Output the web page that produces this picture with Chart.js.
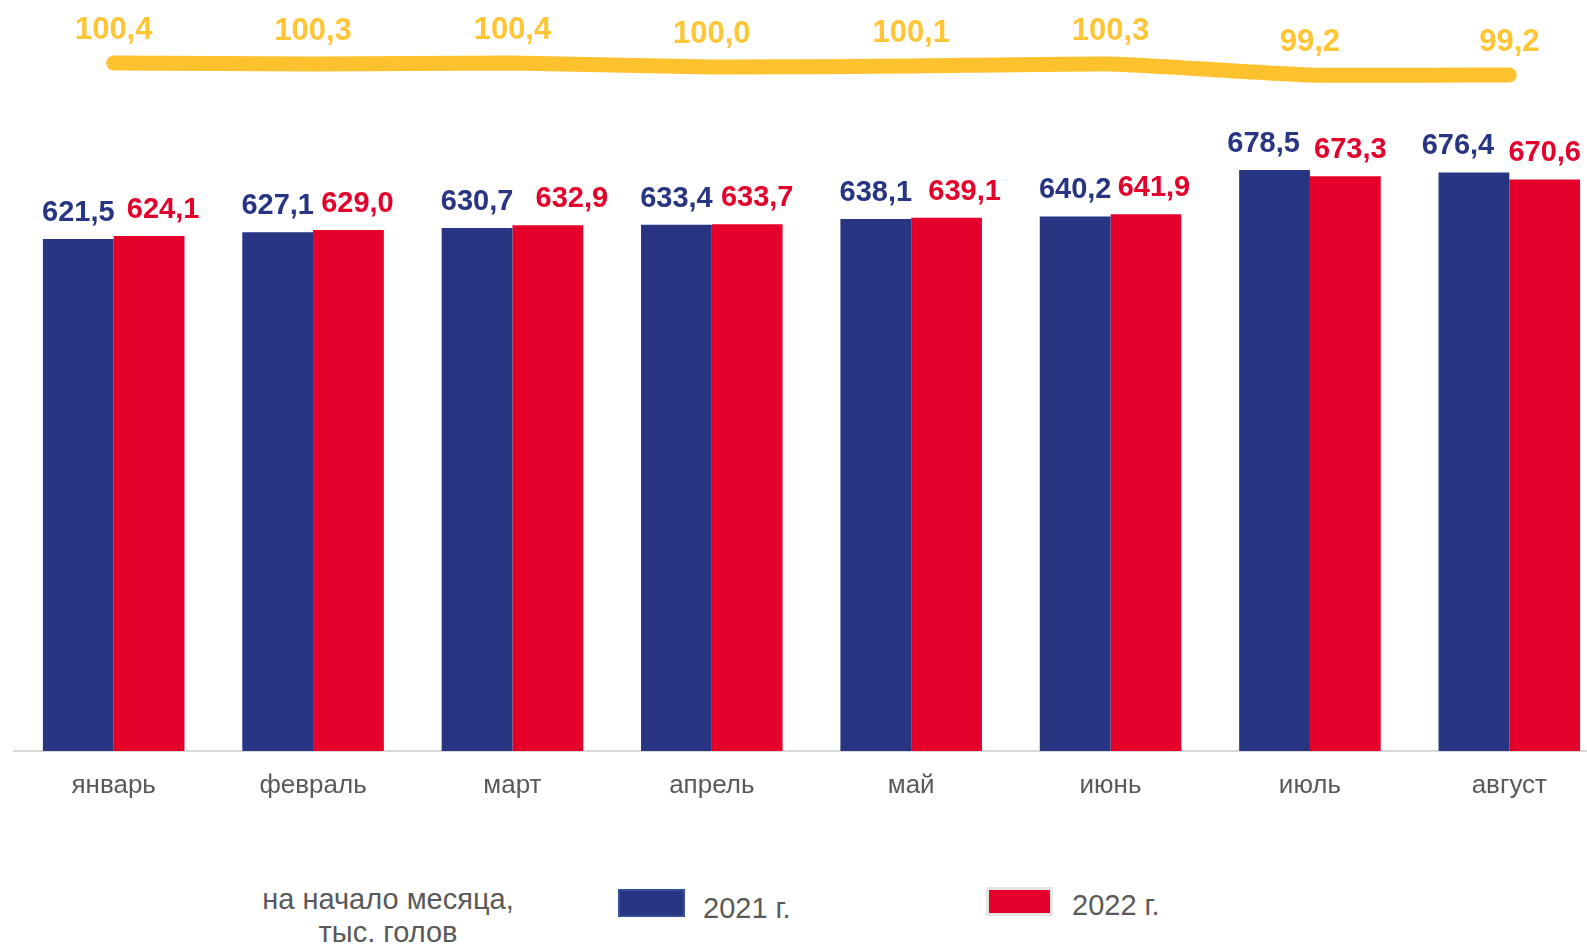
<!DOCTYPE html>
<html lang="ru">
<head>
<meta charset="utf-8">
<title>Поголовье</title>
<script src="https://cdn.jsdelivr.net/npm/chart.js@4.4.1/dist/chart.umd.min.js"></script>
<style>
  html, body { margin: 0; padding: 0; background: #fff; overflow: hidden; width: 1587px; height: 946px; }
  body { position: relative; font-family: "Liberation Sans", Arial, sans-serif; color: #595959; }
  #chart { position: absolute; left: 0; top: 0; }
  .note { position: absolute; left: 188px; top: 883px; width: 400px; text-align: center; font-size: 29px; line-height: 33px; }
  .sw { position: absolute; box-sizing: border-box; }
  .lbl { position: absolute; font-size: 29px; line-height: 30px; }
</style>
</head>
<body>
<canvas id="chart" width="1612" height="811"></canvas>
<div class="note">на начало месяца,<br>тыс. голов</div>
<div class="sw" style="left:618px;top:889px;width:67px;height:28px;background:#283583;border:2px solid #34509a;"></div>
<div class="lbl" style="left:703px;top:893px;">2021 г.</div>
<div class="sw" style="left:986px;top:887px;width:67px;height:29px;background:#e4002b;border:3px solid #e6e6e6;"></div>
<div class="lbl" style="left:1072px;top:890px;">2022 г.</div>

<script>
// data
const months = ['январь', 'февраль', 'март', 'апрель', 'май', 'июнь', 'июль', 'август'];
const herd2021 = [621.5, 627.1, 630.7, 633.4, 638.1, 640.2, 678.5, 676.4];
const herd2022 = [624.1, 629.0, 632.9, 633.7, 639.1, 641.9, 673.3, 670.6];
const ratio = [100.4, 100.3, 100.4, 100.0, 100.1, 100.3, 99.2, 99.2];

const BLUE = '#283583';
const RED = '#e4002b';
const YELLOW = '#ffc22f';
const FONT = '"Liberation Sans", Arial, sans-serif';

// labels in the original are nudged sideways by hand, unevenly
const blueShift = [0, 0, 0, 0, 0, 0, -11, -16];
const redShift = [14, 9, 24, 10, 18, 8, 5, 0];

function fmt(v) {
    return v.toFixed(1).replace('.', ',');
}

const valueLabels = {
    id: 'valueLabels',
    afterDatasetsDraw(chart) {
        const ctx = chart.ctx;
        ctx.save();
        ctx.textAlign = 'center';
        ctx.textBaseline = 'alphabetic';
        chart.data.datasets.forEach(function(ds, di) {
            const meta = chart.getDatasetMeta(di);
            meta.data.forEach(function(el, i) {
                if (ds.type === 'line') {
                    ctx.font = 'bold 31px ' + FONT;
                    ctx.fillStyle = '#ffc535';
                    ctx.fillText(fmt(ds.data[i]), el.x, el.y - 24);
                } else {
                    ctx.font = 'bold 29px ' + FONT;
                    ctx.fillStyle = ds.backgroundColor;
                    const dx = di === 1 ? redShift[i] : blueShift[i];
                    ctx.fillText(fmt(ds.data[i]), el.x + dx, el.y - 18);
                }
            });
        });
        ctx.restore();
    }
};

const ctx = document.getElementById('chart').getContext('2d');
new Chart(ctx, {
    data: {
        labels: months,
        datasets: [
            {
                type: 'bar',
                label: '2021 г.',
                data: herd2021,
                backgroundColor: BLUE,
                categoryPercentage: 0.71,
                barPercentage: 1.0,
                yAxisID: 'y'
            },
            {
                type: 'bar',
                label: '2022 г.',
                data: herd2022,
                backgroundColor: RED,
                categoryPercentage: 0.71,
                barPercentage: 1.0,
                yAxisID: 'y'
            },
            {
                type: 'line',
                label: 'индекс',
                data: ratio,
                borderColor: YELLOW,
                borderWidth: 15,
                borderCapStyle: 'round',
                borderJoinStyle: 'round',
                tension: 0.15,
                pointRadius: 0,
                yAxisID: 'y2'
            }
        ]
    },
    options: {
        responsive: false,
        animation: false,
        layout: { padding: { left: 14, top: 0, right: 3, bottom: 0 } },
        plugins: {
            legend: { display: false },
            tooltip: { enabled: false }
        },
        scales: {
            x: {
                grid: { display: false, drawTicks: false },
                border: { display: true, color: '#d9d9d9', width: 2 },
                ticks: {
                    color: '#595959',
                    padding: 19,
                    font: { family: FONT, size: 26 }
                },
                afterFit: function(scale) { scale.height = 60; }
            },
            y: {
                display: false,
                min: 200,
                max: 818.4
            },
            y2: {
                display: false,
                min: 31.6,
                max: 106.7
            }
        }
    },
    plugins: [valueLabels]
});
</script>
</body>
</html>
